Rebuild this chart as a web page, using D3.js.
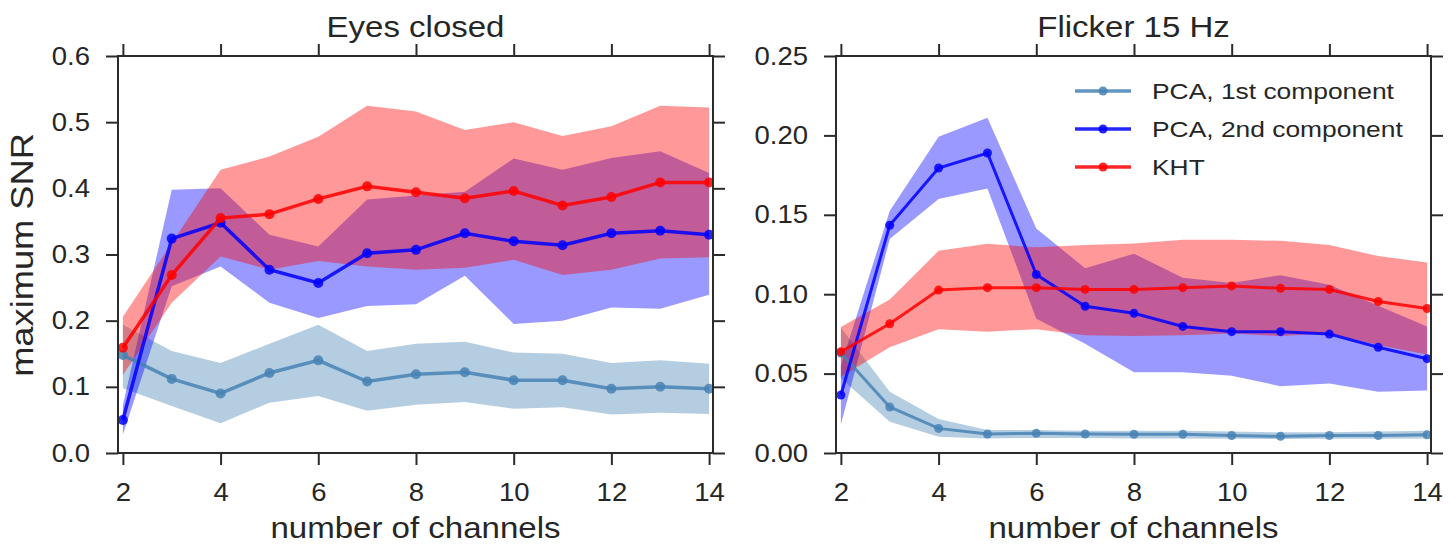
<!DOCTYPE html>
<html>
<head>
<meta charset="utf-8">
<script src="https://cdn.jsdelivr.net/npm/d3@7"></script>
<style>
  body { margin: 0; background: #fff; }
  svg text { font-family: "Liberation Sans", Arial, sans-serif; fill: #262626; }
</style>
</head>
<body>
<div class="div-chart"></div>
<script>
// number of channels (x values, shared by both panels)
const channels = [2, 3, 4, 5, 6, 7, 8, 9, 10, 11, 12, 13, 14];

// Eyes closed
const ecPca1 = [0.148, 0.112, 0.090, 0.121, 0.140, 0.108, 0.119, 0.122, 0.110, 0.110, 0.097, 0.100, 0.097];
const ecPca1Hi = [0.194, 0.154, 0.136, 0.165, 0.194, 0.154, 0.165, 0.168, 0.152, 0.150, 0.136, 0.140, 0.135];
const ecPca1Lo = [0.098, 0.071, 0.045, 0.076, 0.086, 0.064, 0.073, 0.077, 0.067, 0.069, 0.058, 0.061, 0.059];
const ecPca2 = [0.050, 0.324, 0.348, 0.277, 0.257, 0.302, 0.307, 0.332, 0.320, 0.314, 0.332, 0.336, 0.330];
const ecPca2Hi = [0.072, 0.398, 0.400, 0.330, 0.312, 0.383, 0.389, 0.395, 0.445, 0.428, 0.446, 0.456, 0.423];
const ecPca2Lo = [0.028, 0.252, 0.282, 0.227, 0.204, 0.222, 0.225, 0.268, 0.195, 0.200, 0.220, 0.218, 0.239];
const ecKht = [0.159, 0.269, 0.355, 0.361, 0.384, 0.403, 0.394, 0.385, 0.396, 0.374, 0.387, 0.409, 0.409];
const ecKhtHi = [0.206, 0.317, 0.428, 0.448, 0.478, 0.525, 0.516, 0.488, 0.500, 0.479, 0.494, 0.525, 0.522];
const ecKhtLo = [0.118, 0.227, 0.297, 0.277, 0.290, 0.282, 0.277, 0.280, 0.292, 0.269, 0.277, 0.294, 0.296];

// Flicker 15 Hz
const flPca1 = [0.063, 0.029, 0.0155, 0.012, 0.0124, 0.012, 0.0118, 0.0118, 0.011, 0.0105, 0.011, 0.011, 0.0115];
const flPca1Hi = [0.079, 0.0386, 0.0214, 0.0145, 0.0145, 0.014, 0.014, 0.014, 0.0135, 0.013, 0.013, 0.0135, 0.014];
const flPca1Lo = [0.047, 0.0197, 0.0103, 0.0092, 0.0095, 0.0095, 0.0092, 0.0092, 0.009, 0.0088, 0.009, 0.009, 0.0092];
const flPca2 = [0.0365, 0.1434, 0.1795, 0.1889, 0.1124, 0.0924, 0.088, 0.0797, 0.0764, 0.0764, 0.0749, 0.0666, 0.0594];
const flPca2Hi = [0.055, 0.1524, 0.1991, 0.2111, 0.1413, 0.1164, 0.1255, 0.1103, 0.107, 0.112, 0.1059, 0.0928, 0.0797];
const flPca2Lo = [0.018, 0.1347, 0.160, 0.1666, 0.0845, 0.0688, 0.0509, 0.0509, 0.0487, 0.0421, 0.0437, 0.0386, 0.0393];
const flKht = [0.0638, 0.0814, 0.1026, 0.1041, 0.1041, 0.103, 0.103, 0.1041, 0.1052, 0.1037, 0.103, 0.0954, 0.091];
const flKhtHi = [0.0793, 0.0967, 0.1273, 0.1317, 0.1295, 0.131, 0.132, 0.1343, 0.1343, 0.1336, 0.131, 0.124, 0.120];
const flKhtLo = [0.048, 0.0666, 0.078, 0.0764, 0.078, 0.0742, 0.0736, 0.0742, 0.0753, 0.0736, 0.0753, 0.068, 0.062];

const seriesNames = ['PCA, 1st component', 'PCA, 2nd component', 'KHT'];
const seriesColors = ['steelblue', '#0000ff', '#ff0000'];
const xTicks = [2, 4, 6, 8, 10, 12, 14];
const ecYTicks = [0.0, 0.1, 0.2, 0.3, 0.4, 0.5, 0.6];
const flYTicks = [0.00, 0.05, 0.10, 0.15, 0.20, 0.25];

const width = 1456, height = 544;
const plotTop = 56, plotBottom = 453;
const stretch = 1.1;   // text in the figure is a bit wider than Arial

const svg = d3.select('.div-chart')
    .append('svg')
    .attr('width', width)
    .attr('height', height);

function drawPanel(p) {
    const x = d3.scaleLinear().domain([1.9, 14.08]).range([p.left, p.right]);
    const y = d3.scaleLinear().domain([0, p.yMax]).range([plotBottom, plotTop]);
    const g = svg.append('g');

    const series = [
        { mean: p.pca1, hi: p.pca1Hi, lo: p.pca1Lo },
        { mean: p.pca2, hi: p.pca2Hi, lo: p.pca2Lo },
        { mean: p.kht, hi: p.khtHi, lo: p.khtLo }
    ];

    // bands first
    series.forEach((s, i) => {
        const area = d3.area()
            .x((d, j) => x(channels[j]))
            .y0((d, j) => y(s.lo[j]))
            .y1((d, j) => y(s.hi[j]));
        g.append('path')
            .attr('d', area(s.mean))
            .attr('fill', seriesColors[i])
            .attr('fill-opacity', 0.4);
    });

    // then lines with markers
    series.forEach((s, i) => {
        const line = d3.line()
            .x((d, j) => x(channels[j]))
            .y(d => y(d));
        g.append('path')
            .attr('d', line(s.mean))
            .attr('fill', 'none')
            .attr('stroke', seriesColors[i])
            .attr('stroke-opacity', 0.85)
            .attr('stroke-width', p.lw);
        g.selectAll(null)
            .data(s.mean)
            .enter().append('circle')
            .attr('cx', (d, j) => x(channels[j]))
            .attr('cy', d => y(d))
            .attr('r', p.r)
            .attr('fill', seriesColors[i])
            .attr('fill-opacity', 0.85);
    });

    // spines
    g.append('rect')
        .attr('x', p.left).attr('y', plotTop)
        .attr('width', p.right - p.left).attr('height', plotBottom - plotTop)
        .attr('fill', 'none')
        .attr('stroke', '#2b2b2b')
        .attr('stroke-width', 2);

    const styleAxis = a => {
        a.select('.domain').remove();
        a.selectAll('line').attr('stroke', '#2b2b2b').attr('stroke-width', 2);
        a.selectAll('text').attr('font-size', 25).style('fill', '#262626');
    };

    g.append('g')
        .attr('transform', `translate(0,${plotBottom})`)
        .call(d3.axisBottom(x).tickValues(xTicks).tickSize(12).tickPadding(18))
        .call(styleAxis)
        .selectAll('text').attr('transform', `scale(${stretch},1)`);

    g.append('g')
        .attr('transform', `translate(0,${plotTop})`)
        .call(d3.axisTop(x).tickValues(xTicks).tickSize(12).tickFormat(''))
        .call(styleAxis);

    g.append('g')
        .attr('transform', `translate(${p.left},0)`)
        .call(d3.axisLeft(y).tickValues(p.yTicks).tickSize(12).tickPadding(16).tickFormat(d3.format(p.fmt)))
        .call(styleAxis)
        .selectAll('text')
        .attr('x', -28 / stretch)
        .attr('transform', `scale(${stretch},1)`);

    g.append('g')
        .attr('transform', `translate(${p.right},0)`)
        .call(d3.axisRight(y).tickValues(p.yTicks).tickSize(12).tickFormat(''))
        .call(styleAxis);

    const cx = (p.left + p.right) / 2;
    g.append('text')
        .attr('transform', `translate(${cx},37) scale(${stretch},1)`)
        .attr('text-anchor', 'middle')
        .attr('font-size', 30)
        .text(p.title);

    g.append('text')
        .attr('transform', `translate(${cx},538) scale(1.14,1)`)
        .attr('text-anchor', 'middle')
        .attr('font-size', 29)
        .text('number of channels');

    return { x, y, g };
}

drawPanel({
    title: 'Eyes closed', left: 118, right: 713, yMax: 0.6, yTicks: ecYTicks, fmt: '.1f',
    lw: 3.5, r: 5,
    pca1: ecPca1, pca1Hi: ecPca1Hi, pca1Lo: ecPca1Lo,
    pca2: ecPca2, pca2Hi: ecPca2Hi, pca2Lo: ecPca2Lo,
    kht: ecKht, khtHi: ecKhtHi, khtLo: ecKhtLo
});

drawPanel({
    title: 'Flicker 15 Hz', left: 836, right: 1431, yMax: 0.25, yTicks: flYTicks, fmt: '.2f',
    lw: 3, r: 4.5,
    pca1: flPca1, pca1Hi: flPca1Hi, pca1Lo: flPca1Lo,
    pca2: flPca2, pca2Hi: flPca2Hi, pca2Lo: flPca2Lo,
    kht: flKht, khtHi: flKhtHi, khtLo: flKhtLo
});

// y label
svg.append('text')
    .attr('transform', `translate(33,255) rotate(-90) scale(1.17,1)`)
    .attr('text-anchor', 'middle')
    .attr('font-size', 31)
    .text('maximum SNR');

// legend in the right panel
const legend = svg.append('g').attr('transform', 'translate(1075,91)');
seriesNames.forEach((name, i) => {
    const row = legend.append('g').attr('transform', `translate(0,${i * 38})`);
    row.append('line')
        .attr('x1', 0).attr('x2', 56)
        .attr('stroke', seriesColors[i])
        .attr('stroke-opacity', 0.85)
        .attr('stroke-width', 3.5);
    row.append('circle')
        .attr('cx', 28).attr('r', 4.5)
        .attr('fill', seriesColors[i])
        .attr('fill-opacity', 0.85);
    row.append('text')
        .attr('transform', `translate(77,0) scale(1.2,1)`)
        .attr('dy', '0.35em')
        .attr('font-size', 22)
        .text(name);
});
</script>
</body>
</html>
